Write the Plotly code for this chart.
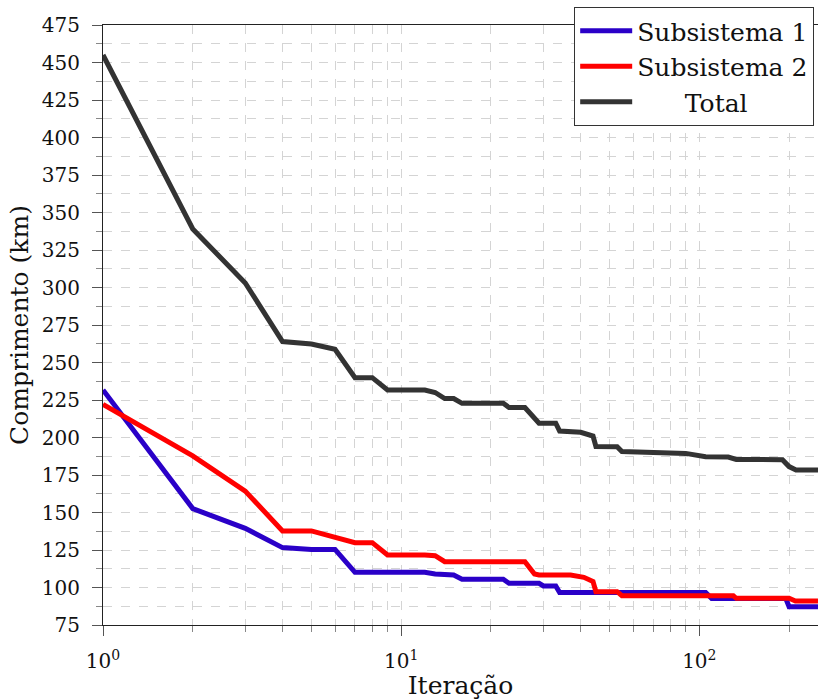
import plotly.graph_objects as go

# Data (iteration, length in km)
iter_total = [1, 2, 3, 4, 5, 6, 7, 8, 9, 12, 13, 14, 15, 16, 22, 23, 26, 27, 28, 29, 33, 34,
              40, 41, 43, 44, 45, 53, 55, 90, 105, 125, 133, 190, 200, 211, 250]
val_total = [455, 339, 303, 264, 262.3, 258.8, 239.9, 239.9, 231.7, 231.7, 230, 226, 226, 222.8,
             222.8, 220, 220, 216, 212, 209.5, 209.5, 204.3, 203.5, 203, 201.7, 201, 194, 193.9,
             190.6, 189.4, 187.2, 187, 185.4, 185.2, 180.6, 178.3, 178.3]

iter_sub1 = [1, 2, 3, 4, 5, 6, 7, 12, 13, 14, 15, 16, 22, 23, 29, 30, 33, 34, 105, 110, 195, 200, 250]
val_sub1 = [231.7, 152.6, 139.4, 126.6, 125.4, 125.4, 110.1, 110.1, 109, 108.5, 108.3, 105.5,
            105.5, 102.8, 102.8, 101, 101, 96.6, 96.6, 92.6, 92.6, 87.2, 87.2]

iter_sub2 = [1, 2, 3, 4, 5, 6, 7, 8, 9, 12, 13, 14, 26, 27, 28, 29, 37, 41, 43, 44, 45, 53, 55,
             130, 133, 200, 210, 250]
val_sub2 = [222.1, 187.7, 164.3, 137.7, 137.7, 133.9, 129.9, 129.9, 121.7, 121.7, 121.2, 117.2,
            117.2, 113, 109, 108.3, 108.3, 106.8, 105, 104, 97.2, 97.2, 94.5, 94.5, 92.8, 92.8,
            91, 91]

series_names = ["Subsistema 1", "Subsistema 2", "\u00a0" * 6 + "Total"]
y_ticks = list(range(75, 476, 25))
x_major = [1, 10, 100]
x_major_text = ["10<sup>0</sup>", "10<sup>1</sup>", "10<sup>2</sup>"]
x_minor = [2, 3, 4, 5, 6, 7, 8, 9, 20, 30, 40, 50, 60, 70, 80, 90, 200]

FONT = "DejaVu Serif"
fig = go.Figure()
fig.add_trace(go.Scatter(x=iter_sub1, y=val_sub1, mode="lines", name=series_names[0],
                         line=dict(color="#2a00c8", width=5)))
fig.add_trace(go.Scatter(x=iter_sub2, y=val_sub2, mode="lines", name=series_names[1],
                         line=dict(color="#ff0000", width=5)))
fig.add_trace(go.Scatter(x=iter_total, y=val_total, mode="lines", name=series_names[2],
                         line=dict(color="#333333", width=5)))

grid = dict(showgrid=True, gridcolor="#d4d4d4", griddash="dash", gridwidth=1)

fig.update_layout(
    width=818, height=700,
    margin=dict(l=103, r=0, t=25, b=75, autoexpand=False),
    paper_bgcolor="white", plot_bgcolor="white",
    font=dict(family=FONT, size=20, color="#111"),
    xaxis=dict(type="log", range=[0, 2.398], tickvals=x_major, ticktext=x_major_text,
               ticks="outside", ticklen=10, tickcolor="#555", showline=True, linecolor="#222",
               linewidth=1, mirror=True, zeroline=False, ticklabelstandoff=8,
               minor=dict(tickvals=x_minor, ticks="outside", ticklen=6, tickcolor="#888", **grid),
               title=dict(text="Iteração", font=dict(size=25), standoff=0),
               **grid),
    yaxis=dict(range=[75, 475], tickvals=y_ticks, ticks="outside", ticklen=10, tickcolor="#555",
               showline=True, linecolor="#222", linewidth=1, mirror=True, zeroline=False,
               ticklabelstandoff=8,
               minor=dict(dtick=12.5, ticks="outside", ticklen=6, tickcolor="#888", **grid),
               title=dict(text="Comprimento (km)", font=dict(size=25), standoff=6),
               **grid),
    legend=dict(x=0.659, y=1.03, xanchor="left", yanchor="top", bgcolor="white",
                bordercolor="#333", borderwidth=1, font=dict(size=25, family=FONT),
                tracegroupgap=0, itemwidth=52),
    showlegend=True,
)

fig.write_html("out.html", config={"displayModeBar": False},
               post_script="document.body.style.margin='0';document.body.style.overflow='hidden';")
